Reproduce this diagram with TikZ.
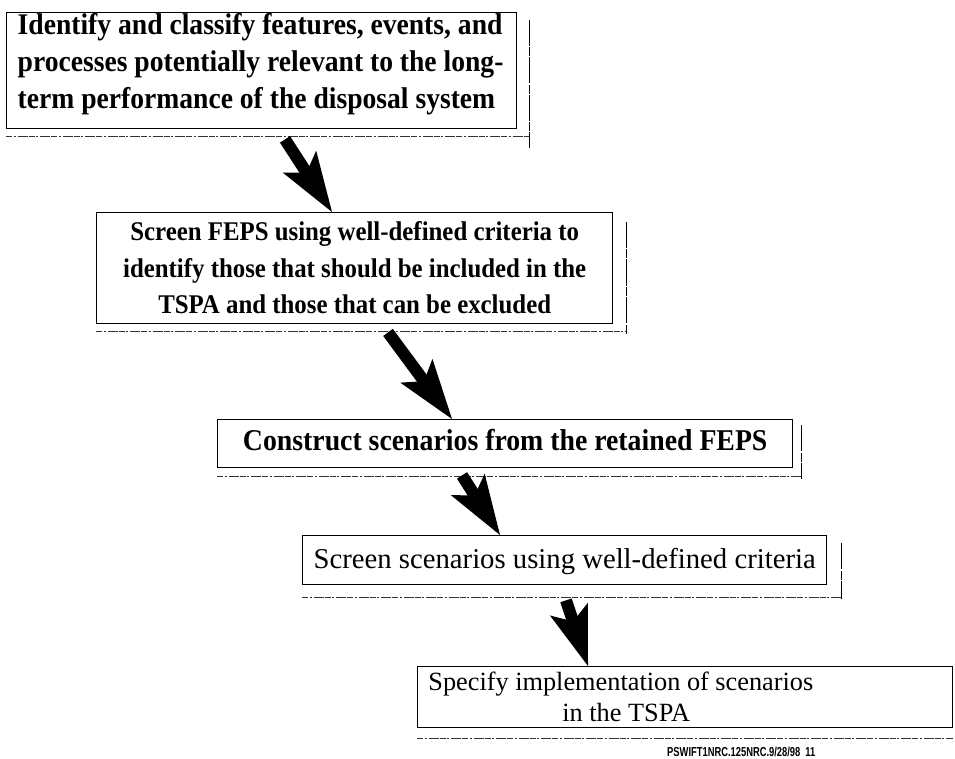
\documentclass[tikz,border=0pt]{standalone}
\usepackage{fontspec}
\usepackage{graphicx}
\setmainfont{Liberation Serif}
\newfontfamily\condA[FakeStretch=0.92]{Liberation Serif}
\newfontfamily\footfont{Liberation Sans}
\usetikzlibrary{arrows.meta,calc}
% #1 width, #2 height, #3 distance top->first baseline, #4 alignment/font setup, #5 text
\newcommand\boxtxt[5]{\parbox[t][#2][t]{#1}{#4\vspace*{\dimexpr#3-20pt\relax}\rule{0pt}{20pt}#5}}
\tikzset{
  boxnode/.style={draw=black, line width=1.4pt, fill=white, inner sep=0pt, anchor=north west},
  fatarrow/.style={black, line width=12pt,
    -{Stealth[length=60pt, width=40pt, inset=13pt, line width=0pt]}},
  bracketline/.style={black, line width=1.3pt, dash pattern=on 26pt off 1.5pt on 9pt off 1pt},
  shadowline/.style={black!80, line width=1.2pt, dash pattern=on 6pt off 1.5pt on 2pt off 2pt on 10pt off 1pt},
}
\begin{document}
\begin{tikzpicture}[x=1pt,y=-1pt]
\useasboundingbox (0,0) rectangle (955,759);

% boxes
\node[boxnode] (b1) at (6,12) {\boxtxt{510pt}{116pt}{21pt}%
  {\condA\fontsize{30pt}{37pt}\selectfont\bfseries\raggedright\leftskip=11pt}%
  {Identify and classify features, events, and\\processes potentially relevant to the long-\\term performance of the disposal system}};

\node[boxnode] (b2) at (96,212) {\boxtxt{516pt}{111pt}{28pt}%
  {\condA\fontsize{27pt}{36.5pt}\selectfont\bfseries\centering}%
  {Screen FEPS using well-defined criteria to\\identify those that should be included in the\\TSPA and those that can be excluded}};

\node[boxnode] (b3) at (217,419) {\boxtxt{575pt}{48pt}{30pt}%
  {\condA\fontsize{30.2pt}{34pt}\selectfont\bfseries\centering}%
  {Construct scenarios from the retained FEPS}};

\node[boxnode] (b4) at (302,535) {\boxtxt{524pt}{49pt}{33pt}%
  {\fontsize{28.7pt}{34pt}\selectfont\centering}%
  {Screen scenarios using well-defined criteria}};

\node[boxnode] (b5) at (417,666) {\boxtxt{535pt}{61pt}{24pt}%
  {\fontsize{26.3pt}{31pt}\selectfont\leftskip=0pt plus 1fil\rightskip=118pt plus 1fil\parfillskip=0pt}%
  {Specify implementation of scenarios\\in the TSPA}};

% shadow lines under the boxes
\foreach \b/\dx/\dy in {b1/12/7, b2/13/7, b3/8/8, b4/14/12, b5/0/10}{
  \draw[shadowline] ($(\b.south west)+(0,\dy)$) -- ($(\b.south east)+(\dx,\dy)$);
}
% right brackets
\foreach \b/\dx/\dt/\db in {b1/12/8/19, b2/13/10/10, b3/8/6/11, b4/14/8/14}{
  \draw[bracketline] ($(\b.north east)+(\dx,\dt)$) -- ($(\b.south east)+(\dx,\db)$);
}

% arrows
\draw[fatarrow] ($(b1.south west)+(279,10)$) -- ($(b2.north west)+(236,0)$);
\draw[fatarrow] ($(b2.south west)+(292,8)$) -- ($(b3.north west)+(235,0)$);
\draw[fatarrow] ($(b3.south west)+(245,7)$) -- ($(b4.north west)+(198,0)$);
\draw[fatarrow] ($(b4.south west)+(264,15)$) -- ($(b5.north west)+(171,0)$);

% footer
\node[inner sep=0pt, anchor=west, font=\footfont\bfseries\fontsize{13pt}{13pt}\selectfont] (foot) at (667,752)
  {\scalebox{0.72}[1]{PSWIFT1NRC.125NRC.9/28/98\hspace{7pt}11}};
\end{tikzpicture}
\end{document}
